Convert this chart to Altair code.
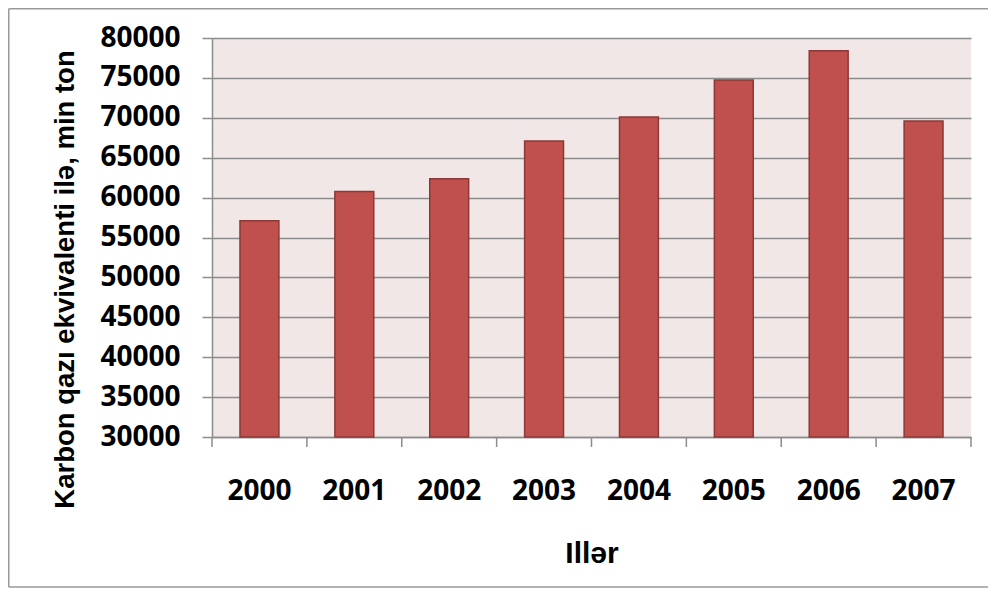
import altair as alt
import pandas as pd

years = ["2000", "2001", "2002", "2003", "2004", "2005", "2006", "2007"]
values = [57100, 60750, 62350, 67100, 70100, 74750, 78400, 69600]
y_ticks = [30000, 35000, 40000, 45000, 50000, 55000, 60000, 65000, 70000, 75000, 80000]

df = pd.DataFrame({"year": years, "value": values})

W, H = 759, 399
PAD_L, PAD_T = 204, 30
TOTAL_W, TOTAL_H = 980, 580

x_scale = alt.Scale(paddingInner=0, paddingOuter=0)
y_scale = alt.Scale(domain=[30000, 80000], nice=False, zero=False)

x_axis = alt.Axis(
    title="Illər",
    labelAngle=0,
    ticks=False,
    labelPadding=40,
    labelFont="Open Sans",
    labelFontWeight="bold",
    labelFontSize=28,
    labelColor="#000000",
    domainColor="#8c8c8c",
    domainWidth=1.5,
    titleFont="Liberation Sans",
    titleFontWeight="bold",
    titleFontSize=30,
    titleColor="#000000",
    titleX=W / 2,
    titleY=125,
    titleBaseline="alphabetic",
    titleAlign="center",
)

base = alt.Chart(df)

bars = base.mark_bar(
    width=alt.RelativeBandSize(0.41),
    color="#C0504D",
    stroke="#8C3836",
    strokeWidth=1.5,
).encode(
    x=alt.X("year:N", scale=x_scale, sort=years, axis=x_axis),
    y=alt.Y(
        "value:Q",
        scale=y_scale,
        axis=alt.Axis(
            title="Karbon qazı ekvivalenti ilə, min ton",
            values=y_ticks,
            format="d",
            grid=True,
            gridColor="#8c8c8c",
            gridWidth=1.5,
            tickColor="#8c8c8c",
            tickSize=10,
            tickWidth=1.5,
            domainColor="#8c8c8c",
            domainWidth=1.5,
            labelPadding=22,
            labelFont="Open Sans",
            labelFontWeight="bold",
            labelFontSize=28,
            labelColor="#000000",
            titleFont="Liberation Sans",
            titleFontWeight="bold",
            titleFontSize=27.5,
            titleColor="#000000",
            titleAngle=270,
            titleX=-139,
            titleY=241,
            titleBaseline="alphabetic",
            titleAlign="center",
        ),
    ),
    y2=alt.datum(30000),
)

ticks = base.mark_rule(color="#8c8c8c", strokeWidth=1.5).encode(
    x=alt.X("year:N", scale=x_scale, sort=years, bandPosition=0, axis=x_axis),
    y=alt.value(H),
    y2=alt.value(H + 10),
)

last_tick = base.transform_filter(alt.datum.year == years[-1]).mark_rule(
    color="#8c8c8c", strokeWidth=1.5
).encode(
    x=alt.X("year:N", scale=x_scale, sort=years, bandPosition=1, axis=x_axis),
    y=alt.value(H),
    y2=alt.value(H + 10),
)

frame_data = alt.Data(values=[{"k": 1}])
frame_left = alt.Chart(frame_data).mark_rule(color="#9a9a9a", strokeWidth=1.5).encode(
    x=alt.value(-PAD_L + 0.75), y=alt.value(-PAD_T + 0.75), y2=alt.value(TOTAL_H - PAD_T - 1)
)
frame_top = alt.Chart(frame_data).mark_rule(color="#9a9a9a", strokeWidth=1.5).encode(
    x=alt.value(-PAD_L + 0.75), x2=alt.value(TOTAL_W - PAD_L), y=alt.value(-PAD_T + 0.75)
)
frame_bottom = alt.Chart(frame_data).mark_rule(color="#9a9a9a", strokeWidth=1.5).encode(
    x=alt.value(-PAD_L + 0.75), x2=alt.value(TOTAL_W - PAD_L), y=alt.value(TOTAL_H - PAD_T - 1)
)

chart = alt.layer(bars, ticks, last_tick, frame_left, frame_top, frame_bottom).properties(
    width=W,
    height=H,
    autosize=alt.AutoSizeParams(type="none"),
    padding={"left": PAD_L, "top": PAD_T, "right": TOTAL_W - PAD_L - W, "bottom": TOTAL_H - PAD_T - H},
    background="#ffffff",
).configure_view(
    fill="#F2E7E7",
    stroke=None,
)

chart.save("out.html", embed_options={"renderer": "svg", "actions": False})
